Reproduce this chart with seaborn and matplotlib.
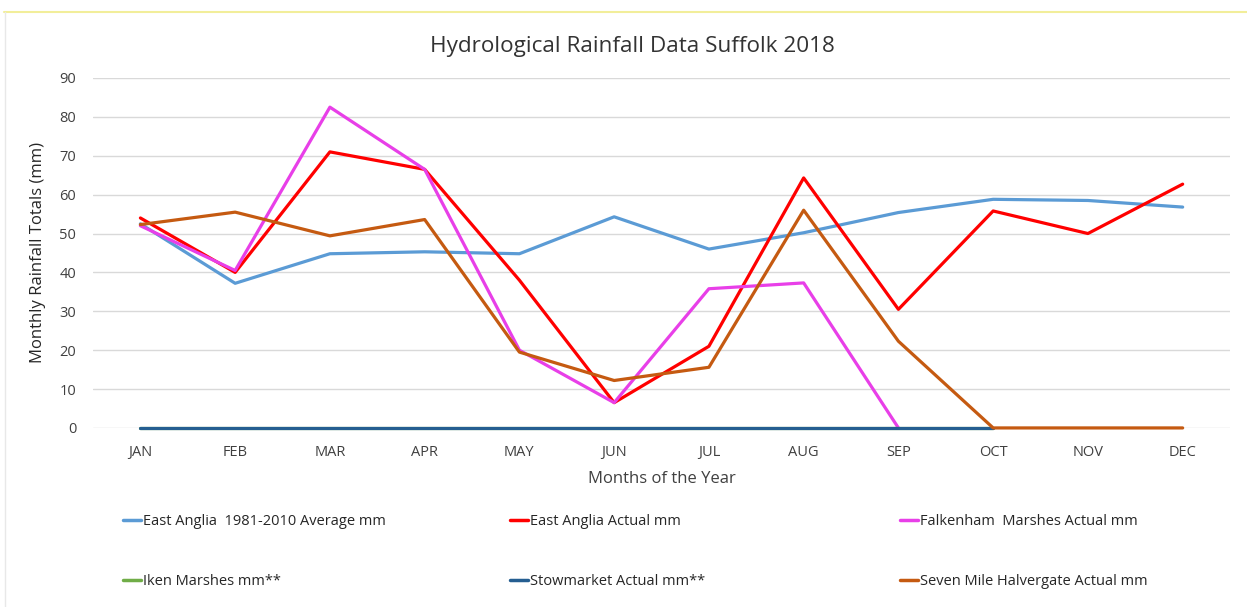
import matplotlib
matplotlib.use("Agg")
import matplotlib.pyplot as plt
import numpy as np
import pandas as pd
import seaborn as sns
from matplotlib.lines import Line2D

sns.set_theme(style="white")
plt.rcParams["font.family"] = ["Liberation Sans Narrow", "Open Sans", "DejaVu Sans"]

# Data
months = ["JAN", "FEB", "MAR", "APR", "MAY", "JUN", "JUL", "AUG", "SEP", "OCT", "NOV", "DEC"]
ea_average = [52.5, 37.2, 44.8, 45.3, 44.8, 54.3, 46.0, 50.2, 55.4, 58.8, 58.5, 56.8]
ea_actual = [54.0, 40.0, 71.0, 66.5, 38.0, 6.5, 21.0, 64.3, 30.5, 55.8, 50.0, 62.7]
falkenham = [52.0, 40.5, 82.5, 66.5, 20.0, 6.5, 35.8, 37.3, 0.0, np.nan, np.nan, np.nan]
iken = [0, 0, 0, 0, 0, 0, 0, 0, 0, 0, np.nan, np.nan]
stowmarket = [0, 0, 0, 0, 0, 0, 0, 0, 0, 0, np.nan, np.nan]
seven_mile = [52.3, 55.5, 49.4, 53.6, 19.5, 12.2, 15.6, 56.0, 22.3, 0.0, 0.0, 0.0]

series_names = ["East Anglia  1981-2010 Average mm", "East Anglia Actual mm",
                "Falkenham  Marshes Actual mm", "Iken Marshes mm**",
                "Stowmarket Actual mm**", "Seven Mile Halvergate Actual mm"]
series_values = [ea_average, ea_actual, falkenham, iken, stowmarket, seven_mile]
colors = ["#5B9BD5", "#FF0000", "#E83FE8", "#70AD47", "#255E91", "#C55A11"]

df = pd.concat([pd.DataFrame({"month": months, "value": v, "series": n})
                for n, v in zip(series_names, series_values)], ignore_index=True)

fig = plt.figure(figsize=(12.47, 6.07), dpi=100)
ax = fig.add_axes([0.0746, 0.295, 0.9118, 0.5765])

for name, col in zip(series_names, colors):
    sub = df[df["series"] == name].dropna()
    sns.lineplot(data=sub, x="month", y="value", color=col, lw=2.3, ax=ax,
                 sort=False, legend=False)
for ln in ax.lines:
    ln.set_clip_on(False)

ax.set_xlim(-0.5, 11.5)
ax.set_ylim(0, 90)
ax.set_yticks(range(0, 91, 10))
ax.set_xticks(range(12))
ax.set_xticklabels(months)
ax.grid(axis="y", color="#D9D9D9", lw=1)
ax.set_axisbelow(True)
for s in ax.spines.values():
    s.set_visible(False)
ax.tick_params(axis="both", length=0, labelsize=10.5, labelcolor="#404040")
ax.tick_params(axis="x", pad=12)
ax.tick_params(axis="y", pad=12)
ax.set_xlabel("Months of the Year", fontsize=12, color="#404040", labelpad=8)
ax.set_ylabel("Monthly Rainfall Totals (mm)", fontsize=12, color="#262626", labelpad=10)
fig.suptitle("Hydrological Rainfall Data Suffolk 2018", x=0.507, y=0.940,
             fontsize=16.2, color="#333333")

# legend: three columns of two rows
handles = [Line2D([0], [0], color=c, lw=2.5) for c in colors]
col_x = [0.0885, 0.3985, 0.7115]
for i, x in enumerate(col_x):
    fig.legend([handles[i], handles[i + 3]], [series_names[i], series_names[i + 3]],
               loc="upper left", bbox_to_anchor=(x, 0.175), frameon=False,
               fontsize=10.5, handlelength=1.2, handletextpad=0.15,
               labelspacing=3.1, labelcolor="#262626")

# light frame around the chart area
fig.add_artist(Line2D([0.003, 1.0], [0.98, 0.98], color="#F2EE9A", lw=1.5))
fig.add_artist(Line2D([0.004, 0.004], [0.0, 0.98], color="#E8E8E8", lw=1))

fig.savefig("out.png", dpi=100)
